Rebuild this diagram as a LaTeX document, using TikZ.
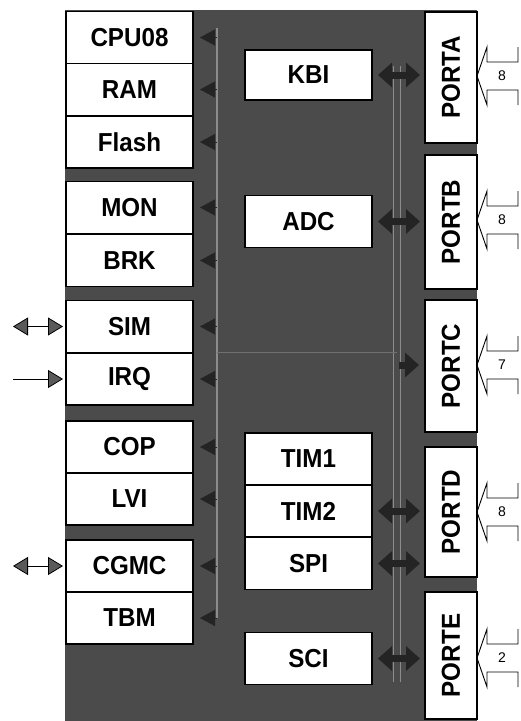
\documentclass[tikz,border=0pt]{standalone}
\usepackage{fontspec}
\usetikzlibrary{arrows.meta,calc}
\newfontfamily\boxfont{Liberation Sans}[FakeStretch=0.93]
\newfontfamily\numfont{Liberation Sans}
\definecolor{bgc}{HTML}{4B4B4B}
\definecolor{darkarr}{HTML}{242424}
\definecolor{busc}{HTML}{8C8C8C}
\definecolor{extfill}{HTML}{5A5A5A}
\tikzset{etip/.tip={Triangle[length=15pt,width=18pt,fill=extfill]}}
\newcommand{\portbus}[3]{%
  \path (#1.east) ++(0,#3) coordinate (#1tip);
  \draw[pbus] ($(#1tip)+(41,-29)$) -- ++(0,15) -- ++(-31,0) -- ++(0,-15) -- (#1tip)
     -- ++(10,29) -- ++(0,-15) -- ++(31,0) -- ++(0,15);
  \node[num] (#1num) at ($(#1tip)+(25,0)$) {#2};}
\begin{document}
\begin{tikzpicture}[x=1pt,y=-1pt,
  every node/.style={inner sep=0pt,outer sep=0pt},
  box/.style={draw=black,line width=1.2pt,fill=white,minimum width=127pt,minimum height=52pt,
     font=\boxfont\bfseries\fontsize{26}{26}\selectfont},
  port/.style={draw=black,line width=1.2pt,fill=white,minimum width=52pt,
     font=\boxfont\bfseries\fontsize{26}{26}\selectfont},
  num/.style={font=\numfont\fontsize{14}{14}\selectfont},
  ltip/.style={draw=darkarr,fill=darkarr,line width=0.5pt,-{Triangle[length=15pt,width=16pt]},shorten >=7pt},
  rarr/.style={draw=darkarr,line width=7pt,{Triangle[length=14pt,width=24pt]}-{Triangle[length=14pt,width=24pt]},shorten <=6pt,shorten >=5pt},
  rone/.style={draw=darkarr,line width=7pt,-{Triangle[length=14pt,width=24pt]},shorten >=6pt},
  ext/.style={draw=black,line width=0.8pt},
  pbus/.style={draw=black,line width=0.9pt,line join=miter},
  lbus/.style={draw=busc,line width=1.6pt},
  rbus/.style={draw=busc,line width=1.4pt,double=bgc,double distance=6pt},
  hline/.style={draw=busc!80!black,line width=1pt}
]
\useasboundingbox (0,0) rectangle (520,721);
\fill[bgc] (65,10) rectangle (477,721);

% buses
\coordinate (lbt) at (217,28);
\coordinate (lbb) at (217,618);
\coordinate (rbt) at (397,66);
\coordinate (rbb) at (397,682);
\coordinate (lbm) at (217,352);
\coordinate (rbm) at (397,352);
\draw[lbus] (lbt) -- (lbb);
\draw[rbus] (rbt) -- (rbb);
\draw[hline] (lbm) -- (rbm);

% left column
\node[box] (cpu)  at (129.5,37.5) {CPU08};
\node[box] (ram)  at (129.5,89.5) {RAM};
\node[box] (flash) at (129.5,142) {Flash};
\node[box] (mon)  at (129.5,207.5) {MON};
\node[box] (brk)  at (129.5,260.5) {BRK};
\node[box] (sim)  at (129.5,326.5) {SIM};
\node[box] (irq)  at (129.5,379) {IRQ};
\node[box] (cop)  at (129.5,447) {COP};
\node[box] (lvi)  at (129.5,499) {LVI};
\node[box] (cgmc) at (129.5,566) {CGMC};
\node[box] (tbm)  at (129.5,618) {TBM};

% middle column
\node[box,minimum height=50pt] (kbi) at (308.5,75) {KBI};
\node[box] (adc)  at (308.5,221.5) {ADC};
\node[box] (tim1) at (308.5,459) {TIM1};
\node[box] (tim2) at (308.5,511) {TIM2};
\node[box] (spi)  at (308.5,563.5) {SPI};
\node[box] (sci)  at (308.5,658.5) {SCI};

% ports
\node[port,minimum height=131pt] (pa) at (451,77.5) {\rotatebox{90}{PORTA}};
\node[port,minimum height=134pt] (pb) at (451,222) {\rotatebox{90}{PORTB}};
\node[port,minimum height=132pt] (pc) at (451,366) {\rotatebox{90}{PORTC}};
\node[port,minimum height=130pt] (pd) at (451,512) {\rotatebox{90}{PORTD}};
\node[port,minimum height=127pt] (pe) at (451,655.5) {\rotatebox{90}{PORTE}};

% left bus taps
\foreach \n in {cpu,ram,flash,mon,brk,sim,irq,cop,lvi,cgmc,tbm}
  \draw[ltip] ($(\n.east)+(24,0)$) -- (\n.east);

% right bus arrows
\draw[rarr] (kbi.east) -- (kbi.east -| pa.west);
\draw[rarr] (adc.east) -- (adc.east -| pb.west);
\draw[rarr] (tim2.east) -- (tim2.east -| pd.west);
\draw[rarr] (spi.east) -- (spi.east -| pd.west);
\draw[rarr] (sci.east) -- (sci.east -| pe.west);
\coordinate (pcsrc) at (399,365);
\draw[rone] (pcsrc) -- (pcsrc -| pc.west);

% external left signals
\coordinate (simx) at (13,326.5);
\coordinate (irqx) at (13,379);
\coordinate (cgmcx) at (13,566);
\draw[ext,{etip}-{etip},shorten >=3pt] (simx) -- (sim.west);
\draw[ext,-{etip},shorten >=3pt] (irqx) -- (irq.west);
\draw[ext,{etip}-{etip},shorten >=3pt] (cgmcx) -- (cgmc.west);

% port buses
\portbus{pa}{8}{-1.5}
\portbus{pb}{8}{-2}
\portbus{pc}{7}{-1}
\portbus{pd}{8}{0}
\portbus{pe}{2}{2.5}
\end{tikzpicture}
\end{document}
